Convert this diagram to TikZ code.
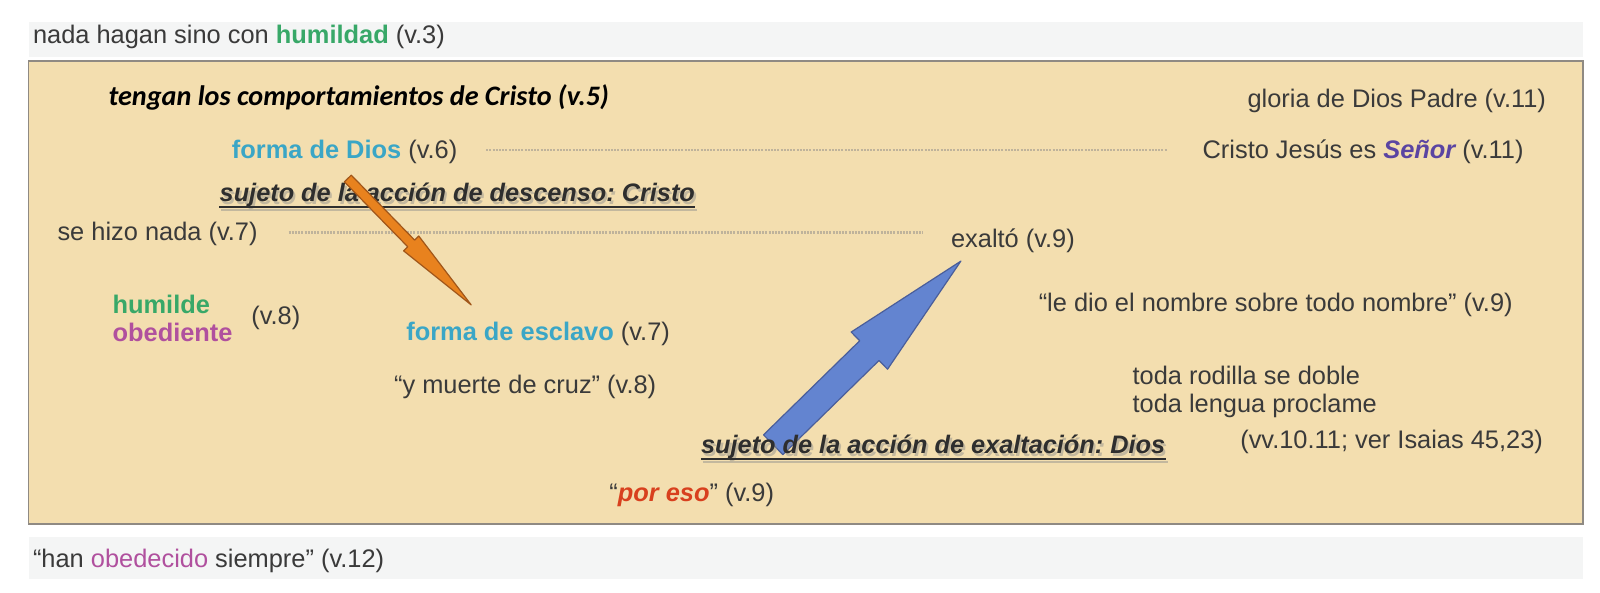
\documentclass[tikz,border=0pt]{standalone}
\usepackage{fontspec}
\setmainfont{Liberation Sans}
\newfontfamily\titlefont{Carlito}
\usetikzlibrary{calc}
\frenchspacing
\definecolor{tan}{HTML}{F3DEAF}
\definecolor{boxline}{HTML}{8F8A83}
\definecolor{band}{HTML}{F4F5F5}
\definecolor{tgray}{HTML}{3A3A3A}
\definecolor{cgreen}{HTML}{38A868}
\definecolor{cteal}{HTML}{3AA6C6}
\definecolor{cmag}{HTML}{B0509E}
\definecolor{cpurple}{HTML}{5A44A2}
\definecolor{cred}{HTML}{D8401E}
\definecolor{dotc}{HTML}{BFB39B}
\definecolor{ofill}{HTML}{E8821E}
\definecolor{oline}{HTML}{A0561A}
\definecolor{bfill}{HTML}{6384D0}
\definecolor{bline}{HTML}{4A5E9A}
\definecolor{shadowc}{HTML}{8A8A8A}
\begin{document}
\begin{tikzpicture}[x=0.51pt,y=-0.51pt,
  txt/.style={anchor=base west, inner sep=0pt, text=tgray, font=\fontsize{12.7}{15}\selectfont},
  txtr/.style={txt, anchor=base east},
  sub/.style={txt, text=black!82, font=\fontsize{12.65}{15}\selectfont\bfseries\itshape},
  subshadow/.style={sub, text=shadowc, opacity=0.45},
  dotline/.style={draw=dotc, line width=1.1pt, dash pattern=on 1pt off 0.6pt},
  oarrow/.style={fill=ofill, draw=oline, line width=0.6pt, line join=round},
  barrow/.style={fill=bfill, draw=bline, line width=0.6pt, line join=round}]
\useasboundingbox (0,0) rectangle (1568.6,580.4);
\fill[white] (0,0) rectangle (1568.6,580.4);
% bands
\fill[band] (28,22) rectangle (1552,56);
\fill[band] (28,526) rectangle (1552,568);
% main box
\fill[tan] (28,60) rectangle (1552,514);
\draw[boxline, line width=0.8pt] (28,60) rectangle (1552,514);

\node[txt] (top) at (32,43) {nada hagan sino con \textcolor{cgreen}{\bfseries humildad} (v.3)};
\node[txt] (bot) at (32,556) {“han \textcolor{cmag}{obedecido} siempre” (v.12)};

\node[anchor=base west, inner sep=0pt, text=black, font=\fontsize{14.1}{17}\selectfont\titlefont\bfseries\itshape] (title) at (106,103) {tengan los comportamientos de Cristo (v.5)};
\node[txtr] (gloria) at (1516,105) {gloria de Dios Padre (v.11)};

\node[txt] (fd) at (227,155) {\textcolor{cteal}{\bfseries forma de Dios} (v.6)};
\node[txtr] (cj) at (1494,155) {Cristo Jesús es \textcolor{cpurple}{\bfseries\itshape Señor} (v.11)};
\draw[dotline] ($(fd.base east)+(28,-8)$) -- ($(cj.base west)+(-35,-8)$);

\node[subshadow] (s1s) at (217,200.5) {sujeto de la acción de descenso: Cristo};
\draw[shadowc, opacity=0.45, line width=1pt] ($(s1s.base west)+(0,5)$) -- ($(s1s.base east)+(0,5)$);
\node[sub] (s1) at (215,198) {sujeto de la acción de descenso: Cristo};
\draw[black!82, line width=0.9pt] ($(s1.base west)+(0,5)$) -- ($(s1.base east)+(0,5)$);

\node[txt] (sh) at (56,236) {se hizo nada (v.7)};
\node[txt] (ex) at (932,243) {exaltó (v.9)};
\draw[dotline] ($(sh.base east)+(30,-8)$) -- ($(sh.base east)+(652,-8)$);

% orange arrow (descent)
\coordinate (oT) at (341,175);
\coordinate (oH) at (462,299);
\coordinate (oB) at ($(oH)!43pt!(oT)$);
\draw[oarrow] ($(oT)!2.4pt!90:(oH)$) -- ($(oB)!2.4pt!-90:(oT)$) -- ($(oB)!5.3pt!-90:(oT)$) -- (oH)
  -- ($(oB)!5.3pt!90:(oT)$) -- ($(oB)!2.4pt!90:(oT)$) -- ($(oT)!2.4pt!-90:(oH)$) -- cycle;

\node[txt, text=cgreen, font=\fontsize{12.7}{15}\selectfont\bfseries] (hum) at (110,307) {humilde};
\node[txt, text=cmag, font=\fontsize{12.7}{15}\selectfont\bfseries] (obe) at (110,335) {obediente};
\node[txt] (v8) at (246,318) {(v.8)};

\node[txt] (fe) at (398,334) {\textcolor{cteal}{\bfseries forma de esclavo} (v.7)};
\node[txt] (ym) at (386,386) {“y muerte de cruz” (v.8)};

\node[txt] (ld) at (1018,305) {“le dio el nombre sobre todo nombre” (v.9)};
\node[txt] (tr) at (1110,377) {toda rodilla se doble};
\node[txt] (tl) at (1110,404) {toda lengua proclame};
\node[txtr] (vv) at (1513,440) {(vv.10.11; ver Isaias 45,23)};

% blue arrow (exaltation)
\coordinate (bT) at (758,436);
\coordinate (bH) at (942,256);
\coordinate (bB) at ($(bH)!64pt!(bT)$);
\draw[barrow] ($(bT)!6.9pt!90:(bH)$) -- ($(bB)!6.9pt!-90:(bT)$) -- ($(bB)!13pt!-90:(bT)$) -- (bH)
  -- ($(bB)!13pt!90:(bT)$) -- ($(bB)!6.9pt!90:(bT)$) -- ($(bT)!6.9pt!-90:(bH)$) -- cycle;

\node[subshadow] (s2s) at (689,447.5) {sujeto de la acción de exaltación: Dios};
\draw[shadowc, opacity=0.45, line width=1pt] ($(s2s.base west)+(0,5)$) -- ($(s2s.base east)+(0,5)$);
\node[sub] (s2) at (687,445) {sujeto de la acción de exaltación: Dios};
\draw[black!82, line width=0.9pt] ($(s2.base west)+(0,5)$) -- ($(s2.base east)+(0,5)$);

\node[txt] (pe) at (597,492) {“\textcolor{cred}{\bfseries\itshape por eso}” (v.9)};
\end{tikzpicture}
\end{document}
